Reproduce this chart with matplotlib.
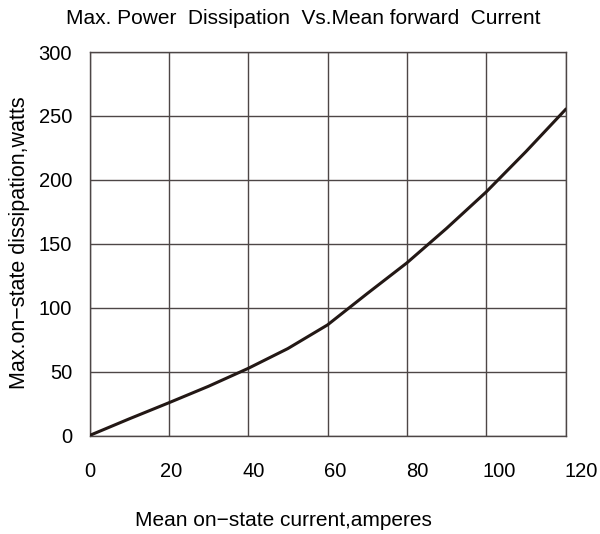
import matplotlib
matplotlib.use("Agg")
import matplotlib.pyplot as plt

# values
current = [0, 10, 20, 30, 40, 50, 60, 70, 80, 90, 100, 110, 120]
power = [0, 13, 25.6, 38.5, 52.5, 68, 86.5, 111, 135, 162, 190.5, 222, 255]

xticks = [0, 20, 40, 60, 80, 100, 120]
yticks = [0, 50, 100, 150, 200, 250, 300]

plt.rcParams["font.family"] = ["Liberation Sans", "DejaVu Sans"]

W, H = 600, 534
fig = plt.figure(figsize=(W / 100, H / 100), dpi=100)
left, right = 89.5 / W, 565.5 / W
bottom, top = 1 - 435.5 / H, 1 - 52 / H
ax = fig.add_axes([left, bottom, right - left, top - bottom])

grid_c = "#4d4646"
ax.plot(current, power, color="#231815", lw=2.2, zorder=3)
ax.set_xlim(0, 120)
ax.set_ylim(0, 300)
ax.set_xticks(xticks)
ax.set_yticks(yticks)
ax.grid(True, color=grid_c, lw=1.0)
for s in ax.spines.values():
    s.set_color(grid_c)
    s.set_linewidth(1.0)
ax.tick_params(length=0, labelsize=14.5, pad=12.5)
ax.set_xticklabels([])

# x tick labels in the scan drift right of the grid lines
lab = fig.add_axes([left, bottom, (581 - 89.5) / W, 0.0001])
lab.set_xlim(0, 120)
lab.set_xticks(xticks)
lab.set_yticks([])
lab.tick_params(length=0, labelsize=14.5, pad=19)
for s in lab.spines.values():
    s.set_visible(False)
lab.patch.set_alpha(0)

fig.text(303 / W, 1 - 18 / H, "Max. Power  Dissipation  Vs.Mean forward  Current",
         ha="center", va="center", fontsize=15)
fig.text(283 / W, 1 - 521 / H, "Mean on\u2212state current,amperes",
         ha="center", va="center", fontsize=15)
fig.text(20 / W, 1 - 243 / H, "Max.on\u2212state dissipation,watts",
         ha="center", va="center", rotation=90, fontsize=15.5)

fig.savefig("out.png", dpi=100)
